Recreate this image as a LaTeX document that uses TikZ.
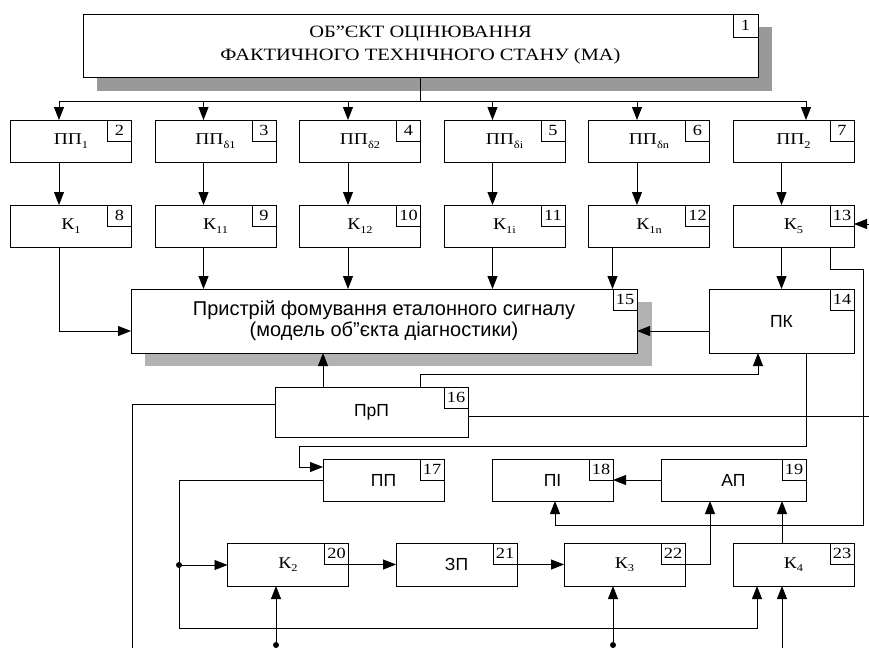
\documentclass[tikz,border=0pt]{standalone}
\usepackage{fontspec}
\setmainfont{Liberation Serif}[FakeStretch=1.18]
\setsansfont{Liberation Sans}
\usetikzlibrary{arrows.meta}
\newcommand{\lidx}[1]{\raisebox{-0.45ex}{\fontsize{10.5}{10.5}\selectfont #1}}
\begin{document}
\begin{tikzpicture}[x=1pt,y=-1pt,line width=0.9pt,
  every node/.style={inner sep=0pt,outer sep=0pt},
  blk/.style={draw,fill=white,minimum width=121pt,minimum height=42pt,font=\fontsize{16.5}{16.5}\selectfont},
  sblk/.style={blk,font=\sffamily\fontsize{17.5}{17.5}\selectfont},
  numbox/.style={draw,anchor=north east,minimum width=24pt,minimum height=21pt,font=\fontsize{15.5}{15.5}\selectfont},
  arr/.style={-{Triangle[length=13pt,width=10pt]}},
  dot/.style={circle,fill,minimum size=6pt}]
\useasboundingbox (0,0) rectangle (869,648);
% shadows
\fill[black!40] (97,27) rectangle (772,91);
\fill[black!30] (145,302) rectangle (652,366);
% object and sensor rows
\node[blk,minimum width=675pt,minimum height=63pt,align=center,font=\fontsize{17.3}{23}\selectfont] (obj) at (420.5,45.5) {ОБ”ЄКТ ОЦІНЮВАННЯ\\ФАКТИЧНОГО ТЕХНІЧНОГО СТАНУ (МА)};
\foreach \t [count=\i] in {ПП\lidx{1},ПП\lidx{δ1},ПП\lidx{δ2},ПП\lidx{δi},ПП\lidx{δn},ПП\lidx{2}} {\node[blk] (pp\i) at (71+144.5*\i-144.5,141) {\t};}
\foreach \t [count=\i] in {К\lidx{1},К\lidx{11},К\lidx{12},К\lidx{1i},К\lidx{1n},К\lidx{5}} {\node[blk] (k\i) at (71+144.5*\i-144.5,226) {\t};}
% middle and lower blocks
\node[sblk,minimum width=506pt,minimum height=64pt,align=center,font=\sffamily\fontsize{20}{21}\selectfont] (etal) at (384,321) {Пристрій фомування еталонного сигналу\\(модель об”єкта діагностики)};
\node[sblk,minimum width=145pt,minimum height=64pt] (pk) at (781.5,321) {ПК};
\node[sblk,minimum width=193pt,minimum height=50pt] (prp) at (371.5,412) {ПрП};
\node[sblk] (pp17) at (383.5,480) {ПП};
\node[sblk] (pi) at (552.5,480) {ПІ};
\node[sblk,minimum width=145pt] (ap) at (733.5,480) {АП};
\node[blk,minimum height=43pt] (kk2) at (288,564.5) {К\lidx{2}};
\node[sblk,minimum height=43pt] (zp) at (456.5,564.5) {ЗП};
\node[blk,minimum height=43pt] (kk3) at (624.5,564.5) {К\lidx{3}};
\node[blk,minimum height=43pt] (kk4) at (793.5,564.5) {К\lidx{4}};
% number boxes
\node[numbox,minimum width=25pt,minimum height=23pt] (n1) at (obj.north east) {1};
\foreach \n/\t in {pp1/2,pp2/3,pp3/4,pp4/5,pp5/6,pp6/7,k1/8,k2/9,k3/10,k4/11,k5/12,k6/13,pk/14,etal/15,prp/16,pp17/17,pi/18,ap/19,kk2/20,zp/21,kk3/22,kk4/23} {\node[numbox] (n\t) at (\n.north east) {\t};}
% bus from the object
\coordinate (busL) at (59,101);
\coordinate (busR) at (806,101);
\draw (obj.south) -- (obj.south |- busL);
\draw (busL) -- (busR);
\foreach \i in {1,...,5} {\draw[arr] ([xshift=-12pt]pp\i.north |- busL) -- ([xshift=-12pt]pp\i.north);}
\draw[arr] (busR) -- (busR |- pp6.north);
\foreach \i in {1,...,6} {\draw[arr] ([xshift=-12pt]pp\i.south) -- ([xshift=-12pt]k\i.north);}
% channels to the reference model
\draw[arr] ([xshift=-12pt]k1.south) |- ([yshift=-10pt]etal.west);
\foreach \i in {2,3,4} {\draw[arr] ([xshift=-12pt]k\i.south) -- ([xshift=-12pt]k\i.south |- etal.north);}
\draw[arr] ([xshift=24pt]k5.south west) -- ([xshift=24pt]k5.south west |- etal.north);
\draw[arr] ([xshift=-12pt]k6.south) -- ([xshift=-12pt]k6.south |- pk.north);
\draw[arr] ([yshift=-10pt]pk.west) -- ([yshift=-10pt]pk.west -| etal.east);
\coordinate (inR) at (869,224);
\draw[arr] (inR) -- (inR -| k6.east);
\draw[arr] ([xshift=-24pt]k6.south east) |- (863,269) -- (863,525) -| ([xshift=2.5pt]pi.south);
% switching unit
\coordinate (c1) at (758,374);
\draw[arr] ([xshift=48pt]prp.north west) -- ([xshift=48pt]prp.north west |- etal.south);
\draw[arr] ([xshift=-48pt]prp.north east) |- (c1) -- (c1 |- pk.south);
\coordinate (bl) at (132,648);
\draw ([yshift=8pt]prp.west) -| (bl);
\coordinate (prR) at (869,416);
\draw ([yshift=-4pt]prp.east) -- (prR);
\draw[arr] ([xshift=24.5pt]pk.south) |- (299,446) |- ([yshift=13pt]pp17.west);
\draw[arr] (pp17.west) -| (179,628) -| ([xshift=-36.5pt]kk4.south);
% lower chain
\node[dot] (d1) at (179,565) {};
\node[dot] (d2) at (276,645) {};
\node[dot] (d3) at (613,645) {};
\draw[arr] (d1) -- (d1 -| kk2.west);
\draw[arr] (kk2.east) -- (zp.west);
\draw[arr] (zp.east) -- (kk3.west);
\draw[arr] (kk3.east) -| ([xshift=-23.5pt]ap.south);
\draw[arr] ([xshift=-11.5pt]kk4.north) -- ([xshift=-11.5pt]kk4.north |- ap.south);
\draw[arr] (ap.west) -- (pi.east);
\draw[arr] (d2) -- (d2 |- kk2.south);
\draw[arr] (d3) -- (d3 |- kk3.south);
\coordinate (b4) at (782,648);
\draw[arr] (b4) -- (b4 |- kk4.south);
\end{tikzpicture}
\end{document}
